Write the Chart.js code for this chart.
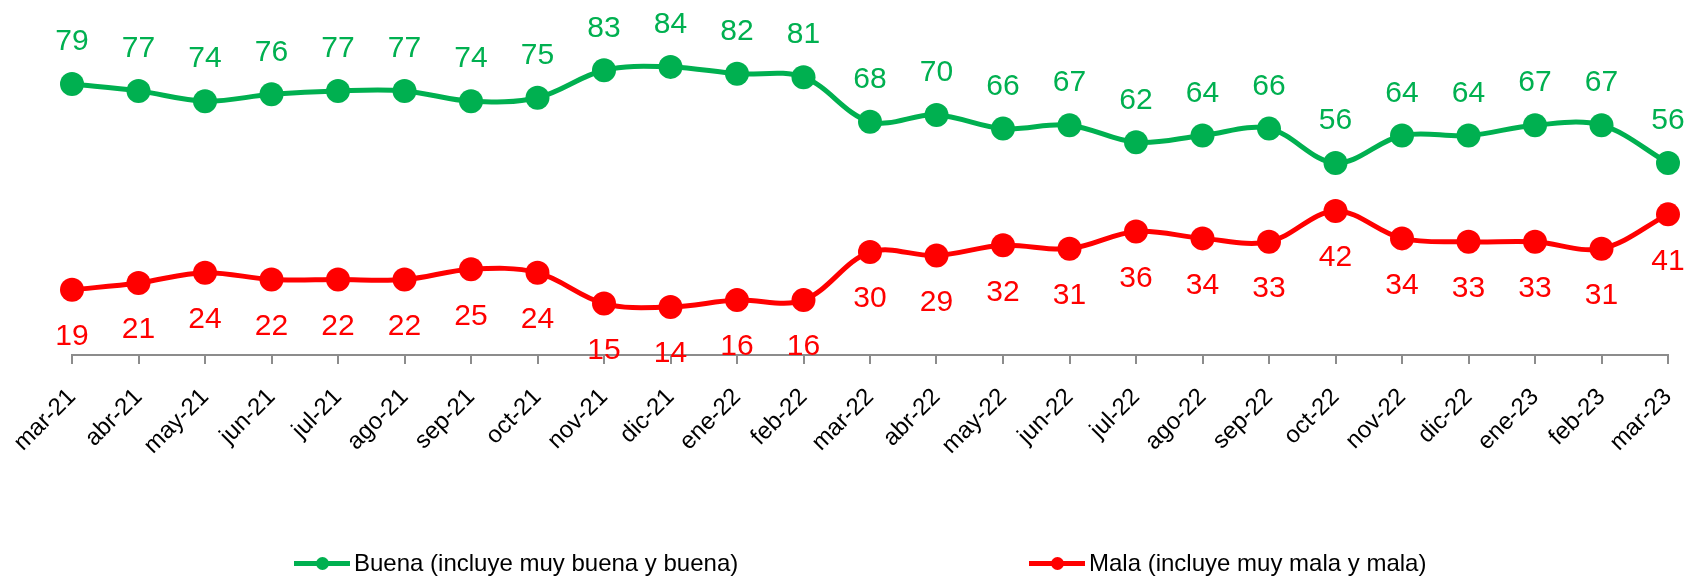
<!DOCTYPE html>
<html>
<head>
<meta charset="utf-8">
<script src="https://cdn.jsdelivr.net/npm/chart.js@4"></script>
<style>
  html, body { margin: 0; padding: 0; background: #fff; }
  #wrap { position: relative; width: 1688px; height: 578px; }
  #legend { position: absolute; left: 0; top: 548px; width: 1688px; height: 30px;
            font-family: "Liberation Sans", Arial, sans-serif; font-size: 24px; color: #000; }
  .item { position: absolute; top: 0; display: flex; align-items: center; height: 30px; white-space: nowrap; }
  .sym { position: relative; width: 56px; height: 30px; margin-right: 4px; }
  .sym .ln { position: absolute; left: 0; right: 0; top: 13px; height: 5px; }
  .sym .dot { position: absolute; left: 22px; top: 9px; width: 13px; height: 13px; border-radius: 50%; }
</style>
</head>
<body>
<div id="wrap">
  <canvas id="chart" width="1688" height="578"></canvas>
  <div id="legend"></div>
</div>
<script>
const months = ["mar-21", "abr-21", "may-21", "jun-21", "jul-21", "ago-21", "sep-21", "oct-21",
  "nov-21", "dic-21", "ene-22", "feb-22", "mar-22", "abr-22", "may-22", "jun-22", "jul-22",
  "ago-22", "sep-22", "oct-22", "nov-22", "dic-22", "ene-23", "feb-23", "mar-23"];
const buena = [79, 77, 74, 76, 77, 77, 74, 75, 83, 84, 82, 81, 68, 70, 66, 67, 62, 64, 66, 56, 64, 64, 67, 67, 56];
const mala = [19, 21, 24, 22, 22, 22, 25, 24, 15, 14, 16, 16, 30, 29, 32, 31, 36, 34, 33, 42, 34, 33, 33, 31, 41];

const green = "#00B050";
const red = "#FF0000";
const axisGray = "#8C8C8C";

// value labels: green above the point, red below
const valueLabels = {
  id: "valueLabels",
  afterDatasetsDraw(chart) {
    const ctx = chart.ctx;
    ctx.save();
    ctx.font = "30px 'Liberation Sans', Arial, sans-serif";
    ctx.textAlign = "center";
    ctx.textBaseline = "middle";
    chart.data.datasets.forEach((ds, i) => {
      const meta = chart.getDatasetMeta(i);
      meta.data.forEach((pt, j) => {
        const off = i === 0 ? -42 : 47;
        ctx.fillStyle = ds.borderColor;
        ctx.fillText(String(ds.data[j]), pt.x, pt.y + off);
      });
    });
    ctx.restore();
  }
};

const chart = new Chart(document.getElementById("chart"), {
  type: "line",
  data: {
    labels: months,
    datasets: [
      {
        label: "Buena (incluye muy buena y buena)",
        data: buena,
        borderColor: green,
        backgroundColor: green,
        borderWidth: 5,
        pointRadius: 12,
        pointHoverRadius: 12,
        pointBorderWidth: 0,
        tension: 0.35,
        clip: false
      },
      {
        label: "Mala (incluye muy mala y mala)",
        data: mala,
        borderColor: red,
        backgroundColor: red,
        borderWidth: 5,
        pointRadius: 12,
        pointHoverRadius: 12,
        pointBorderWidth: 0,
        tension: 0.35,
        clip: false
      }
    ]
  },
  options: {
    responsive: false,
    animation: false,
    layout: { padding: { left: 72, right: 20, top: 7, bottom: 113 } },
    plugins: {
      legend: { display: false },
      tooltip: { enabled: false }
    },
    scales: {
      x: {
        offset: false,
        grid: { drawOnChartArea: false, drawTicks: true, tickLength: 9, color: axisGray, lineWidth: 2 },
        border: { color: axisGray, width: 2 },
        ticks: {
          minRotation: 45,
          maxRotation: 45,
          padding: 19,
          color: "#000",
          font: { family: "'Liberation Sans', Arial, sans-serif", size: 24 }
        },
        afterFit(scale) {
          scale.height = 110;
          scale.paddingLeft = 0;
          scale.paddingRight = 0;
        }
      },
      y: {
        display: false,
        min: 0,
        max: 100
      }
    }
  },
  plugins: [valueLabels]
});

// legend built from the datasets
const legendPos = [294, 1029];
const legendEl = document.getElementById("legend");
chart.data.datasets.forEach((ds, i) => {
  const item = document.createElement("div");
  item.className = "item";
  item.style.left = legendPos[i] + "px";
  item.innerHTML = '<span class="sym"><span class="ln" style="background:' + ds.borderColor +
    '"></span><span class="dot" style="background:' + ds.borderColor + '"></span></span>' +
    '<span>' + ds.label + '</span>';
  legendEl.appendChild(item);
});
</script>
</body>
</html>
